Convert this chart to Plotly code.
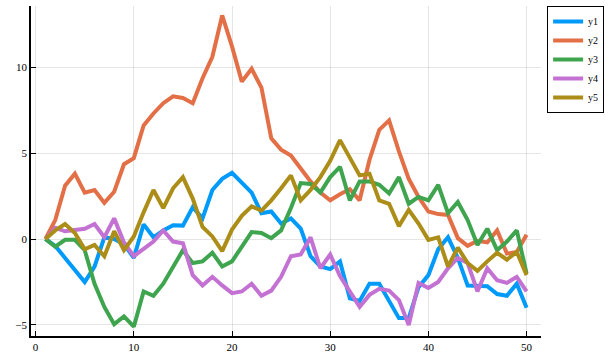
import plotly.graph_objects as go

x = list(range(1, 51))

y1 = [0, -0.4, -1.1, -1.8, -2.5, -1.6, 0.1, 0.0, -0.3, -1.1,
      0.85, 0.1, 0.5, 0.8, 0.78, 1.85, 1.2, 2.85, 3.5, 3.85,
      3.3, 2.7, 1.5, 1.6, 0.9, 1.2, 0.6, -1.0, -1.6, -1.75,
      -1.3, -3.45, -3.6, -2.6, -2.6, -3.65, -4.6, -4.6, -2.8, -2.1,
      -0.6, 0.1, -1.1, -2.7, -2.7, -2.75, -3.2, -3.3, -2.6, -4.0]

y2 = [0, 1.1, 3.1, 3.8, 2.7, 2.85, 2.1, 2.75, 4.35, 4.7,
      6.6, 7.3, 7.9, 8.3, 8.2, 7.9, 9.35, 10.6, 13.0, 11.2,
      9.15, 9.9, 8.8, 5.85, 5.2, 4.85, 4.1, 3.35, 2.7, 2.25,
      2.6, 2.9, 2.25, 4.6, 6.35, 6.9, 5.1, 3.5, 2.45, 1.6,
      1.45, 1.4, 0.05, -0.4, -0.1, -0.2, 0.5, -0.85, -0.75, 0.25]

y3 = [0, -0.45, -0.05, -0.05, -0.65, -2.6, -3.95, -4.95, -4.5, -5.1,
      -3.05, -3.3, -2.6, -1.6, -0.65, -1.4, -1.3, -0.8, -1.6, -1.3,
      -0.4, 0.4, 0.35, 0.05, 0.5, 1.8, 3.25, 3.2, 2.7, 3.6,
      4.2, 2.25, 3.35, 3.35, 3.15, 2.65, 3.6, 2.05, 2.45, 2.25,
      3.15, 1.5, 2.15, 1.1, -0.35, 0.6, -0.65, -0.15, 0.5, -2.0]

y4 = [0, 0.65, 0.45, 0.5, 0.6, 0.87, 0.1, 1.2, -0.2, -1.0,
      -0.6, -0.15, 0.5, -0.15, -0.25, -2.1, -2.7, -2.2, -2.7, -3.15,
      -3.05, -2.6, -3.3, -3.0, -2.2, -1.0, -0.9, 0.1, -1.7, -0.9,
      -2.15, -3.0, -3.95, -3.25, -2.9, -3.0, -3.55, -5.0, -2.55, -2.85,
      -2.5, -1.7, -1.1, -1.4, -3.05, -1.7, -2.4, -2.55, -2.2, -3.05]

y5 = [0, 0.5, 0.87, 0.35, -0.6, -0.35, -1.0, 0.45, -0.65, 0.15,
      1.55, 2.85, 1.8, 2.95, 3.6, 2.35, 0.7, 0.15, -0.7, 0.55,
      1.35, 1.9, 1.65, 2.25, 2.95, 3.7, 2.25, 2.85, 3.6, 4.55,
      5.75, 4.7, 3.7, 3.8, 2.25, 2.05, 0.75, 1.7, 0.9, -0.05,
      0.1, -1.6, -0.5, -1.4, -1.85, -1.3, -0.8, -1.2, -0.75, -2.1]

names = ["y1", "y2", "y3", "y4", "y5"]
series = [y1, y2, y3, y4, y5]
colors = ["#009AFA", "#E36F47", "#3EA44E", "#C371D2", "#AC8D18"]

xticks = [0, 10, 20, 30, 40, 50]
yticks = [-5, 0, 5, 10]
yticklabels = ["\u22125", "0", "5", "10"]

fig = go.Figure()
for n, s, c in zip(names, series, colors):
    fig.add_trace(go.Scatter(x=x, y=s, name=n, mode="lines",
                             line=dict(color=c, width=4)))

serif = "Liberation Serif, DejaVu Serif, serif"
font = dict(family=serif, size=11, color="black")

fig.update_layout(
    width=612, height=360,
    margin=dict(l=31, r=71, t=6, b=24, autoexpand=False),
    paper_bgcolor="white", plot_bgcolor="white",
    font=font,
    showlegend=True,
    legend=dict(x=1.012, y=1.0, xanchor="left", yanchor="top",
                bordercolor="black", borderwidth=1, bgcolor="white",
                font=dict(family=serif, size=10),
                tracegroupgap=0, itemwidth=30),
)
axis_common = dict(showgrid=True, gridcolor="rgba(0,0,0,0.1)", gridwidth=1,
                   showline=True, linecolor="black", linewidth=1.5,
                   ticks="inside", ticklen=5, tickcolor="black", tickwidth=1,
                   zeroline=False, mirror=False, automargin=False,
                   tickfont=dict(family=serif, size=11, color="black"))
fig.update_xaxes(range=[-0.47, 51.47], tickvals=xticks, **axis_common)
fig.update_yaxes(range=[-5.64, 13.55], tickvals=yticks, ticktext=yticklabels,
                 **axis_common)

fig.write_html("out.html",
               config={"displayModeBar": False},
               post_script="document.body.style.margin='0';document.body.style.overflow='hidden';")
